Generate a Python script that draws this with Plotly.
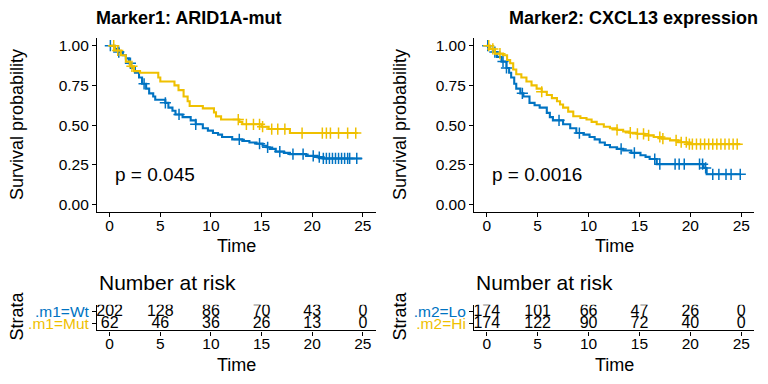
import plotly.graph_objects as go
import numpy as np

BLUE = "#0073C2"
YELLOW = "#EFC000"
FONT = "Liberation Sans, Arial, sans-serif"

# ---------------- data ----------------
# Panel 1: Marker1 ARID1A-mut
m1_wt_t = [0, 0.5, 0.9, 1.3, 1.6, 1.9, 2.1, 2.5, 2.9, 3.2, 3.6, 3.9, 4.3, 4.5, 5.5, 5.8, 6.2, 6.5, 7.2, 8.0, 8.5,
           9.2, 9.7, 10.2, 10.7, 11.1, 12.1, 13.1, 13.8, 14.5, 15.1, 15.5, 15.8, 16.4, 17.2, 17.8, 19.4, 20.5, 21.1, 24.9]
m1_wt_s = [1.0, 0.98, 0.96, 0.94, 0.92, 0.89, 0.86, 0.83, 0.80, 0.76, 0.73, 0.70, 0.68, 0.66, 0.64, 0.61, 0.59, 0.567,
           0.55, 0.53, 0.505, 0.48, 0.465, 0.45, 0.44, 0.425, 0.41, 0.40, 0.39, 0.383, 0.37, 0.36, 0.35, 0.333, 0.325,
           0.317, 0.306, 0.298, 0.29, 0.29]
m1_wt_cens = [0.07, 0.9, 2.05, 3.4, 5.5, 6.85, 8.5, 12.8, 14.8, 15.6, 16.8, 18.1, 19.1, 20.1, 20.7, 21.1, 21.4, 21.7,
              22.0, 22.3, 22.6, 22.9, 23.2, 23.5, 23.7, 24.4]
m1_mut_t = [0, 0.5, 1.1, 1.6, 2.0, 2.4, 3.0, 4.8, 5.0, 6.4, 6.8, 7.3, 7.7, 7.9, 9.2, 10.3, 10.5, 11.0, 12.8, 13.1,
            15.0, 15.7, 17.8, 24.5]
m1_mut_s = [1.0, 0.97, 0.94, 0.90, 0.87, 0.84, 0.83, 0.80, 0.775, 0.75, 0.72, 0.68, 0.65, 0.62, 0.605, 0.58, 0.555,
            0.535, 0.52, 0.505, 0.49, 0.475, 0.45, 0.45]
m1_mut_cens = [0.4, 0.8, 2.2, 12.7, 13.5, 14.2, 14.8, 15.1, 16.0, 16.6, 17.3, 19.0, 21.0, 21.4, 21.8, 22.6, 23.5, 24.3]

# Panel 2: Marker2 CXCL13 expression
m2_lo_t = [0, 0.3, 0.6, 1.0, 1.45, 1.94, 2.2, 2.4, 2.7, 2.9, 3.3, 3.6, 4.2, 4.7, 5.2, 5.9, 6.2, 6.5, 7.5, 8.2, 8.8,
           9.5, 10.1, 10.6, 11.1, 11.6, 12.1, 12.8, 13.4, 14.2, 15.1, 15.6, 16.0, 16.7, 21.3, 21.6, 24.9]
m2_lo_s = [1.0, 0.98, 0.96, 0.93, 0.90, 0.86, 0.83, 0.80, 0.76, 0.73, 0.70, 0.68, 0.64, 0.625, 0.61, 0.577, 0.55,
           0.53, 0.505, 0.48, 0.45, 0.44, 0.425, 0.41, 0.39, 0.375, 0.36, 0.35, 0.34, 0.325, 0.31, 0.30, 0.286, 0.254,
           0.23, 0.19, 0.19]
m2_lo_cens = [0.1, 0.8, 1.6, 1.94, 3.5, 7.1, 9.1, 13.2, 14.5, 16.5, 17.0, 18.5, 18.9, 19.4, 20.9, 21.2, 21.5, 22.2,
              22.8, 23.5, 24.0, 24.9]
m2_hi_t = [0, 0.3, 0.8, 1.6, 2.0, 2.3, 2.6, 2.9, 3.4, 3.9, 4.4, 4.9, 5.4, 5.9, 6.4, 6.9, 7.2, 7.5, 8.0, 8.5, 9.2,
           9.8, 10.3, 10.8, 11.5, 12.1, 12.8, 13.4, 14.0, 14.7, 15.5, 16.4, 17.2, 18.0, 18.8, 19.7, 24.9]
m2_hi_s = [1.0, 0.98, 0.95, 0.94, 0.91, 0.89, 0.85, 0.82, 0.80, 0.775, 0.75, 0.73, 0.71, 0.69, 0.67, 0.65, 0.63,
           0.61, 0.585, 0.556, 0.545, 0.535, 0.52, 0.505, 0.49, 0.48, 0.47, 0.46, 0.452, 0.445, 0.435, 0.425, 0.415,
           0.404, 0.392, 0.38, 0.38]
m2_hi_cens = [0.2, 0.6, 1.3, 5.4, 12.8, 14.1, 14.8, 15.4, 15.9, 17.0, 17.3, 18.6, 19.1, 19.6, 19.9, 20.2, 20.6, 21.0,
              21.4, 21.8, 22.2, 22.6, 23.0, 23.4, 23.8, 24.2, 24.6]

risk_times = [0, 5, 10, 15, 20, 25]
m1_risk_wt = [202, 128, 86, 70, 43, 0]
m1_risk_mut = [62, 46, 36, 26, 13, 0]
m2_risk_lo = [174, 101, 66, 47, 26, 0]
m2_risk_hi = [174, 122, 90, 72, 40, 0]

titles = ["Marker1: ARID1A-mut", "Marker2: CXCL13 expression"]
pvals = ["p = 0.045", "p = 0.0016"]
strata1 = [".m1=Wt", ".m1=Mut"]
strata2 = [".m2=Lo", ".m2=Hi"]
xticks = [0, 5, 10, 15, 20, 25]
yticks = [0, 0.25, 0.5, 0.75, 1.0]
ytick_text = ["0.00", "0.25", "0.50", "0.75", "1.00"]

# ---------------- figure ----------------
W, H = 768, 384
OFF = 8  # page body margin in the exported HTML
fig = go.Figure()


def step_val(ts, ss, t):
    idx = np.searchsorted(np.array(ts), t, side="right") - 1
    return ss[max(idx, 0)]


def px(x):
    return (x - OFF) / W


def py(y):
    return 1 - (y - OFF) / H


def add_curve(xa, ya, ts, ss, cens, color):
    fig.add_trace(go.Scatter(x=ts, y=ss, mode="lines", line=dict(color=color, width=2.1, shape="hv"),
                             xaxis=xa, yaxis=ya, showlegend=False, hoverinfo="skip"))
    cy = [step_val(ts, ss, c) for c in cens]
    fig.add_trace(go.Scatter(x=cens, y=cy, mode="markers",
                             marker=dict(symbol="cross-thin", size=8, line=dict(color=color, width=1.5)),
                             xaxis=xa, yaxis=ya, showlegend=False, hoverinfo="skip"))


panels = [
    dict(x0=97, x1=375.5, curves=[(m1_wt_t, m1_wt_s, m1_wt_cens, BLUE), (m1_mut_t, m1_mut_s, m1_mut_cens, YELLOW)],
         risk=(m1_risk_wt, m1_risk_mut), strata=strata1, title_cx=188, left=17),
    dict(x0=474, x1=754, curves=[(m2_lo_t, m2_lo_s, m2_lo_cens, BLUE), (m2_hi_t, m2_hi_s, m2_hi_cens, YELLOW)],
         risk=(m2_risk_lo, m2_risk_hi), strata=strata2, title_cx=633, left=400),
]

axis_common = dict(showline=True, linecolor="black", linewidth=1.1, ticks="outside", ticklen=4,
                   tickcolor="black", tickwidth=1.1, showgrid=False, zeroline=False,
                   tickfont=dict(family=FONT, size=15.5, color="black"))

layout = {}
annotations = []
for i, p in enumerate(panels):
    n1 = 2 * i + 1
    n2 = 2 * i + 2
    main_x = "xaxis" if n1 == 1 else f"xaxis{n1}"
    main_y = "yaxis" if n1 == 1 else f"yaxis{n1}"
    rx = f"xaxis{n2}"
    ry = f"yaxis{n2}"
    xa_ref = "x" if n1 == 1 else f"x{n1}"
    ya_ref = "y" if n1 == 1 else f"y{n1}"
    rxa_ref = f"x{n2}"
    rya_ref = f"y{n2}"

    layout[main_x] = dict(axis_common, domain=[px(p["x0"]), px(p["x1"])], range=[-1.25, 26.25],
                          tickvals=xticks, anchor=ya_ref, ticklabelstandoff=-5)
    layout[main_y] = dict(axis_common, domain=[py(212), py(36)], range=[-0.05, 1.05],
                          tickvals=yticks, ticktext=ytick_text, anchor=xa_ref)
    layout[rx] = dict(axis_common, domain=[px(p["x0"]), px(p["x1"])], range=[-1.25, 26.25],
                      tickvals=xticks, anchor=rya_ref, ticklabelstandoff=-5)
    strata_text = [f'<span style="color:{YELLOW}">{p["strata"][1]}</span>',
                   f'<span style="color:{BLUE}">{p["strata"][0]}</span>']
    layout[ry] = dict(axis_common, domain=[py(331), py(305)], range=[0.4167, 2.583],
                      tickvals=[1, 2], ticktext=strata_text, anchor=rxa_ref)

    for (ts, ss, cens, col) in p["curves"]:
        add_curve(xa_ref, ya_ref, ts, ss, cens, col)

    for row_y, vals in [(2, p["risk"][0]), (1, p["risk"][1])]:
        fig.add_trace(go.Scatter(x=risk_times, y=[row_y] * len(vals), mode="text",
                                 text=[str(v) for v in vals],
                                 textfont=dict(family=FONT, size=16, color="black"),
                                 textposition="middle center",
                                 xaxis=rxa_ref, yaxis=rya_ref, showlegend=False, hoverinfo="skip"))

    annotations.append(dict(x=0.3, y=0.19, xref=xa_ref, yref=ya_ref, text=pvals[i], showarrow=False,
                            xanchor="left", yanchor="middle", font=dict(family=FONT, size=19, color="black")))
    annotations.append(dict(x=px(p["title_cx"]), y=py(16), xref="paper", yref="paper",
                            text=f"<b>{titles[i]}</b>", showarrow=False, xanchor="center", yanchor="middle",
                            font=dict(family=FONT, size=18, color="black")))
    cx = (p["x0"] + p["x1"]) / 2
    annotations.append(dict(x=px(cx), y=py(246), xref="paper", yref="paper", text="Time", showarrow=False,
                            xanchor="center", yanchor="middle", font=dict(family=FONT, size=18, color="black")))
    annotations.append(dict(x=px(cx), y=py(366), xref="paper", yref="paper", text="Time", showarrow=False,
                            xanchor="center", yanchor="middle", font=dict(family=FONT, size=18, color="black")))
    annotations.append(dict(x=px(p["x0"]), y=py(283), xref="paper", yref="paper", text="Number at risk",
                            showarrow=False, xanchor="left", yanchor="middle",
                            font=dict(family=FONT, size=21, color="black")))
    annotations.append(dict(x=px(p["left"]), y=py(124), xref="paper", yref="paper", text="Survival probability",
                            showarrow=False, textangle=-90, xanchor="center", yanchor="middle",
                            font=dict(family=FONT, size=18, color="black")))
    annotations.append(dict(x=px(p["left"]), y=py(317), xref="paper", yref="paper", text="Strata",
                            showarrow=False, textangle=-90, xanchor="center", yanchor="middle",
                            font=dict(family=FONT, size=18, color="black")))

fig.update_layout(**layout)
fig.update_layout(width=W, height=H, margin=dict(l=0, r=0, t=0, b=0), autosize=False,
                  paper_bgcolor="white", plot_bgcolor="white", showlegend=False,
                  annotations=annotations, font=dict(family=FONT, color="black"))
fig.write_html("out.html")
